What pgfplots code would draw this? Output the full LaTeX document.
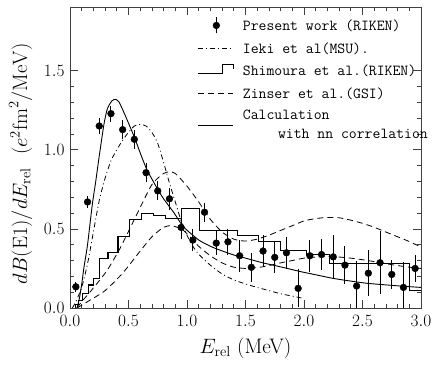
\documentclass[border=0pt]{standalone}
\usepackage{pgfplots}
\usepackage{pgfplotstable}
\pgfplotsset{compat=1.18}

\pgfplotstableread{
x y e
0.05 0.134 0.03
0.15 0.670 0.04
0.25 1.150 0.05
0.35 1.228 0.05
0.45 1.127 0.06
0.55 1.066 0.06
0.65 0.855 0.06
0.75 0.740 0.06
0.85 0.690 0.07
0.95 0.509 0.07
1.05 0.429 0.07
1.15 0.605 0.06
1.25 0.410 0.075
1.35 0.418 0.08
1.45 0.330 0.10
1.55 0.257 0.09
1.65 0.360 0.10
1.75 0.320 0.10
1.85 0.349 0.10
1.95 0.124 0.12
2.05 0.330 0.10
2.15 0.338 0.095
2.25 0.323 0.137
2.35 0.271 0.12
2.45 0.139 0.16
2.55 0.220 0.147
2.65 0.286 0.20
2.75 0.212 0.09
2.85 0.130 0.16
2.95 0.250 0.085
}\riken

\pgfplotstableread{
x y
0.02 0.00
0.05 0.04
0.10 0.13
0.15 0.28
0.20 0.48
0.25 0.68
0.30 0.82
0.35 0.93
0.40 1.00
0.45 1.06
0.50 1.11
0.55 1.15
0.60 1.16
0.65 1.15
0.70 1.11
0.75 1.04
0.80 0.92
0.85 0.79
0.90 0.67
0.95 0.55
1.00 0.46
1.05 0.39
1.10 0.34
1.20 0.27
1.30 0.215
1.40 0.178
1.50 0.152
1.60 0.130
1.70 0.110
1.80 0.090
1.90 0.075
2.00 0.060
}\ieki

\pgfplotstableread{
x y
0.05 0.000
0.05 0.020
0.07 0.050
0.11 0.093
0.155 0.145
0.20 0.185
0.255 0.310
0.325 0.350
0.41 0.450
0.505 0.562
0.61 0.595
0.712 0.584
0.82 0.568
0.955 0.630
1.105 0.490
1.435 0.460
1.61 0.418
1.80 0.366
2.02 0.340
2.215 0.283
2.905 0.113
3.00 0.113
}\shimoura

\pgfplotstableread{
x y
0.06 0.00
0.10 0.04
0.17 0.10
0.31 0.23
0.43 0.38
0.57 0.59
0.70 0.78
0.80 0.85
0.85 0.86
0.90 0.85
1.00 0.77
1.10 0.67
1.20 0.56
1.30 0.48
1.40 0.435
1.50 0.423
1.60 0.435
1.70 0.46
1.80 0.49
1.90 0.52
2.00 0.55
2.10 0.565
2.20 0.572
2.30 0.57
2.40 0.555
2.50 0.535
2.60 0.51
2.70 0.48
2.80 0.45
2.90 0.42
3.00 0.385
}\zinserA

\pgfplotstableread{
x y
0.06 0.00
0.15 0.04
0.30 0.11
0.45 0.22
0.60 0.36
0.70 0.45
0.80 0.51
0.87 0.52
0.95 0.50
1.00 0.47
1.10 0.39
1.20 0.33
1.30 0.285
1.40 0.258
1.50 0.25
1.60 0.255
1.70 0.268
1.80 0.285
1.90 0.30
2.00 0.315
2.10 0.322
2.20 0.325
2.30 0.322
2.40 0.315
2.50 0.305
2.60 0.293
2.70 0.28
2.80 0.268
2.90 0.258
3.00 0.25
}\zinserB

\pgfplotstableread{
x y
0.06 0.00
0.08 0.06
0.10 0.15
0.12 0.26
0.15 0.40
0.19 0.65
0.22 0.80
0.25 0.96
0.29 1.16
0.32 1.26
0.36 1.31
0.39 1.318
0.42 1.30
0.47 1.22
0.55 1.08
0.60 0.98
0.66 0.87
0.75 0.75
0.80 0.69
0.89 0.60
0.97 0.513
1.10 0.43
1.20 0.39
1.28 0.366
1.40 0.335
1.51 0.313
1.65 0.285
1.80 0.26
1.97 0.23
2.10 0.21
2.25 0.187
2.40 0.17
2.54 0.156
2.70 0.146
2.82 0.139
3.00 0.13
}\calc

\begin{document}
\begin{tikzpicture}
\useasboundingbox (-70pt,-58pt) rectangle (362pt,308pt);
\begin{axis}[
  at={(0pt,0pt)}, anchor=south west,
  scale only axis, width=351pt, height=300.7pt,
  xmin=0, xmax=3, ymin=0, ymax=1.9,
  xtick={0,0.5,1,1.5,2,2.5,3},
  ytick={0,0.5,1,1.5},
  minor x tick num=4, minor y tick num=4,
  tick align=inside,
  major tick length=8pt, minor tick length=4pt,
  xtick pos=both, ytick pos=both,
  axis line style={black!75, line width=0.8pt},
  every tick/.style={black!75, line width=0.7pt},
  xticklabel style={/pgf/number format/.cd, fixed, fixed zerofill, precision=1, /tikz/.cd, yshift=-4pt},
  yticklabel style={/pgf/number format/.cd, fixed, fixed zerofill, precision=1, /tikz/.cd, xshift=-2pt},
  tick label style={font=\fontsize{16}{19}\selectfont},
  xlabel={$E_{\mathrm{rel}}$\ (MeV)},
  xlabel style={font=\fontsize{21}{24}\selectfont, at={(axis description cs:0.5,-0.135)}, anchor=center},
  ylabel={$dB(\mathrm{E1})/dE_{\mathrm{rel}}\ \ (e^2\mathrm{fm}^2/\mathrm{MeV})$},
  ylabel style={font=\fontsize{22}{25}\selectfont, at={(axis description cs:-0.097,0.48)}, anchor=south},
  legend style={draw=none, fill=none, at={(rel axis cs:0.355,0.975)}, anchor=north west,
    font=\fontsize{15.3}{18.5}\ttfamily, row sep=6.5pt, cells={align=left},
    /tikz/every odd column/.append style={column sep=7pt}},
  legend cell align=left,
  legend image code/.code={\draw[#1] (0pt,0pt) -- (35pt,0pt);},
]
\addplot[only marks, mark=*, mark size=3.4pt, black,
  legend image code/.code={\fill[black] (18pt,0pt) circle (3.4pt); \draw[black, line width=0.9pt] (18pt,-8pt) -- (18pt,8pt);},
  error bars/.cd, y dir=both, y explicit, error mark=none,
  error bar style={line width=0.9pt, black}]
  table[x=x, y=y, y error=e] {\riken};
\addlegendentry{Present work (RIKEN)}
\addplot[black, line width=0.8pt, dash pattern=on 5pt off 3pt on 1pt off 3pt, smooth, tension=0.4] table {\ieki};
\addlegendentry{Ieki et al(MSU).}
\addplot[black, line width=1.1pt, const plot mark left,
  legend image code/.code={\draw[black, line width=1.1pt] (0pt,-2pt) -- (24pt,-2pt) -- (24pt,7pt) -- (35pt,7pt) -- (35pt,2pt);}] table {\shimoura};
\addlegendentry{Shimoura et al.(RIKEN)}
\addplot[black, line width=0.8pt, dash pattern=on 6pt off 4pt, smooth, tension=0.4] table {\zinserA};
\addlegendentry{Zinser et al.(GSI)}
\addplot[black, line width=0.8pt, dash pattern=on 6pt off 4pt, smooth, tension=0.4, forget plot] table {\zinserB};
\addplot[black, line width=0.9pt, smooth, tension=0.4] table {\calc};
\addlegendentry{Calculation\\\hspace{2.3em}with nn correlation}
\end{axis}
\end{tikzpicture}
\end{document}
